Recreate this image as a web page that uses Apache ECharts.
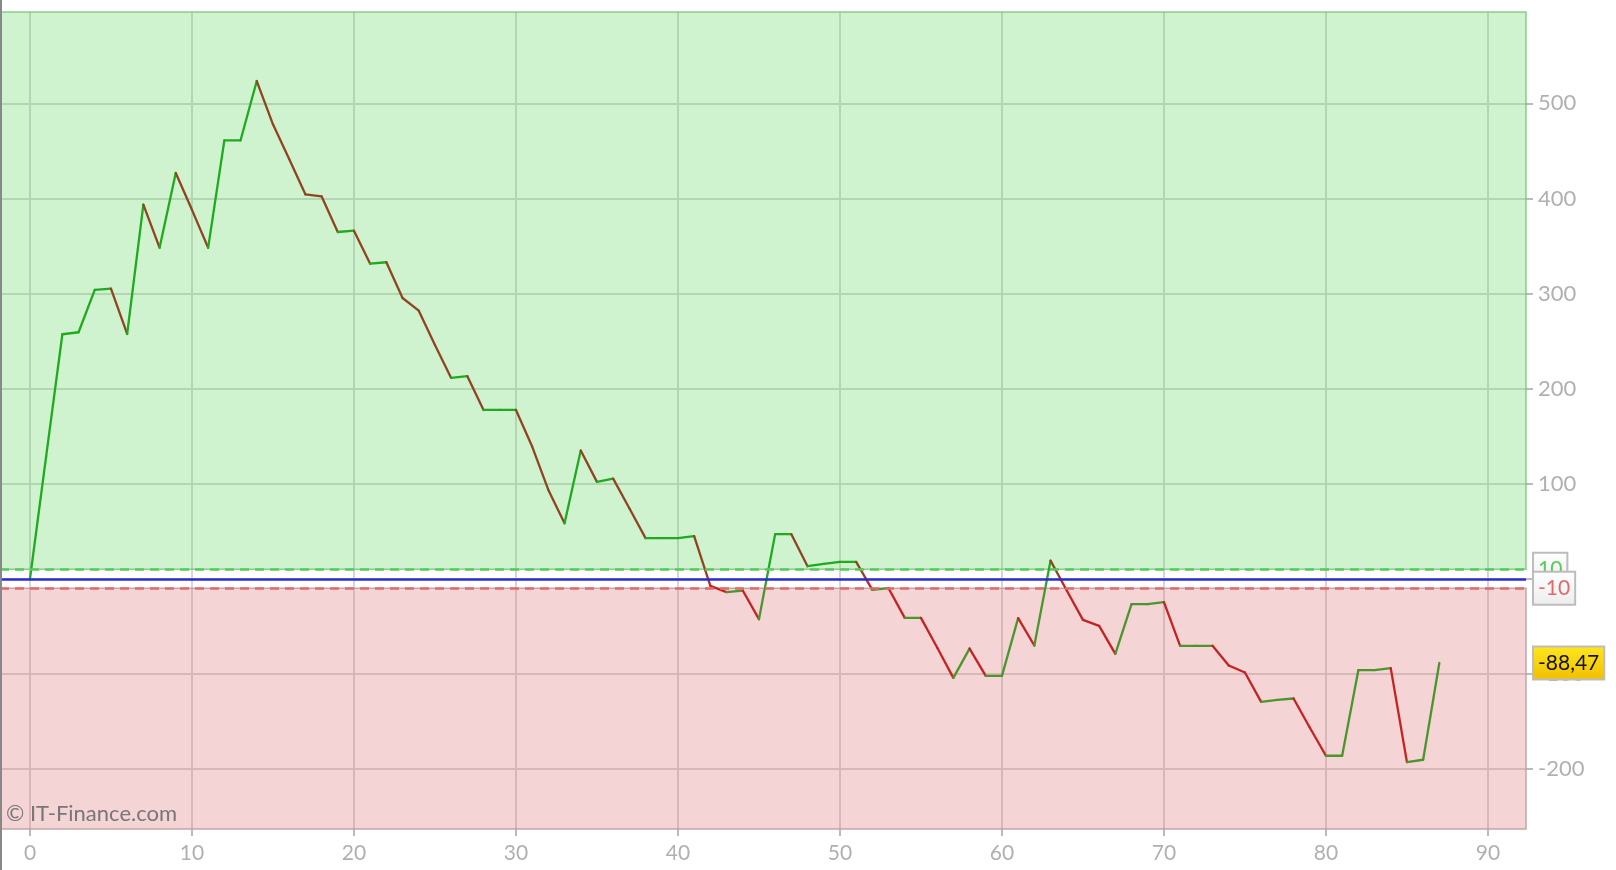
<!DOCTYPE html>
<html>
<head>
<meta charset="utf-8">
<script src="https://cdn.jsdelivr.net/npm/echarts@6/dist/echarts.min.js"></script>
<style>
html,body{margin:0;padding:0;background:#fff;}
#chart{width:1616px;height:870px;}
</style>
</head>
<body>
<div id="chart"></div>
<script>
// ---- data ----
const xValues = [];
const seriesValues = [
  0, 129, 257.2, 259.3, 303.8, 305.1, 257.5, 393.4, 348.2, 426.7,
  388, 348.2, 461.1, 461.1, 523.4, 477.9, 441.5, 404.3, 402.2, 364.7,
  366.1, 331.4, 332.9, 295.3, 282.0, 246, 211.3, 213.1, 177.6, 177.6,
  177.6, 139.1, 93.5, 58.5, 134.9, 102, 105.4, 74.3, 42.8, 42.8,
  42.8, 44.9, -7.4, -14, -12.3, -42.4, 47, 47, 13.3, 15.8,
  17.9, 17.9, -11.6, -9.8, -41, -41, -72.2, -104.1, -73.3, -102,
  -102, -41.3, -70.1, 19.2, -12.3, -43.1, -49.4, -78.8, -26.6, -26.6,
  -24.5, -70.4, -70.4, -70.4, -91.1, -98.5, -129.3, -127.2, -125.8, -156.3,
  -186, -186, -96, -96, -93.9, -192.7, -190.2, -88.47
];
for (let i = 0; i < seriesValues.length; i++) xValues.push(i);
const xTicks = [0, 10, 20, 30, 40, 50, 60, 70, 80, 90];
const yTicks = [-200, -100, 0, 100, 200, 300, 400, 500];
const upperBand = 10;
const lowerBand = -10;
const lastValue = -88.47;
const xRange = [-1.85, 92.35];
const yRange = [-263, 596];

// ---- chart ----
const segData = [];
for (let i = 0; i < seriesValues.length - 1; i++) {
  segData.push([xValues[i], seriesValues[i], xValues[i + 1], seriesValues[i + 1]]);
}
const COL = {
  upPos: '#1faa1f', upNeg: '#4a952c',
  downPos: '#8e4520', downNeg: '#c62222'
};
function colorAt(v, up) {
  if (up) return v >= 0 ? COL.upPos : COL.upNeg;
  return v >= 0 ? COL.downPos : COL.downNeg;
}
const chart = echarts.init(document.getElementById('chart'), null, {renderer: 'canvas'});
const font = 'Lato, "Open Sans", sans-serif';
const boxLabel = {
  position: 'end', distance: 8, fontFamily: font, fontSize: 21, lineHeight: 22,
  borderColor: '#bdbdbd', borderWidth: 2, padding: [5, 4, 4, 4]
};
chart.setOption({
  animation: false,
  backgroundColor: '#fff',
  grid: {left: 0, right: 90, top: 12, bottom: 41},
  xAxis: {
    type: 'value', min: xRange[0], max: xRange[1], splitNumber: 9,
    axisLine: {show: false, onZero: false},
    axisTick: {show: true, length: 7, lineStyle: {color: '#bbb', width: 2}, customValues: xTicks},
    axisLabel: {customValues: xTicks, color: '#b0b0b0', fontSize: 21, fontFamily: font, margin: 14},
    splitLine: {show: true, lineStyle: {color: '#d6d6d6', width: 2}}
  },
  yAxis: {
    type: 'value', position: 'right', min: yRange[0], max: yRange[1], splitNumber: 8,
    axisLine: {show: false, onZero: false},
    axisTick: {show: true, length: 7, lineStyle: {color: '#bbb', width: 2}, customValues: yTicks},
    axisLabel: {customValues: yTicks, color: '#b0b0b0', fontSize: 22, fontFamily: font, margin: 12},
    splitLine: {show: true, lineStyle: {color: '#d6d6d6', width: 2}}
  },
  graphic: [
    {type: 'rect', left: 0, top: 0, shape: {width: 2, height: 870}, style: {fill: '#888'}, z: 100},
    {type: 'text', left: 6, top: 803, z: 100,
     style: {text: '\u00A9 IT-Finance.com', fill: '#777', font: '22px Lato, "Open Sans", sans-serif'}}
  ],
  series: [
    {
      type: 'line', data: [], z: 1, silent: true,
      markArea: {
        silent: true,
        data: [
          [{yAxis: upperBand, itemStyle: {color: 'rgba(95,211,95,0.3)', borderColor: 'rgba(120,190,120,0.8)', borderWidth: 1.5}}, {yAxis: yRange[1]}],
          [{yAxis: yRange[0], itemStyle: {color: 'rgba(218,112,112,0.3)', borderColor: 'rgba(190,160,160,0.9)', borderWidth: 1.5}}, {yAxis: lowerBand}]
        ]
      }
    },
    {
      type: 'line', data: [], z: 2, silent: true,
      markLine: {
        silent: true, symbol: ['none', 'none'],
        label: boxLabel,
        data: [
          {yAxis: 0, lineStyle: {color: '#2b2bd6', width: 2.5, type: 'solid'}, label: {show: false}},
          {yAxis: upperBand, lineStyle: {color: '#55cc55', width: 2.5, type: [9, 6]},
           label: Object.assign({}, boxLabel, {formatter: String(upperBand), color: '#55cc55',
             backgroundColor: new echarts.graphic.LinearGradient(0, 0, 0, 1, [{offset: 0, color: '#ffffff'}, {offset: 1, color: '#ececec'}])})},
          {yAxis: lowerBand, lineStyle: {color: '#e06a6a', width: 2.5, type: [9, 6]},
           label: Object.assign({}, boxLabel, {formatter: String(lowerBand), color: '#e06a6a',
             backgroundColor: new echarts.graphic.LinearGradient(0, 0, 0, 1, [{offset: 0, color: '#ffffff'}, {offset: 1, color: '#ececec'}])})},
          {yAxis: lastValue, lineStyle: {color: 'rgba(0,0,0,0)', width: 0},
           label: Object.assign({}, boxLabel, {formatter: String(lastValue).replace('.', ','), color: '#111',
             backgroundColor: new echarts.graphic.LinearGradient(0, 0, 0, 1, [{offset: 0, color: '#ffe61e'}, {offset: 1, color: '#f0bf00'}])})}
        ]
      }
    },
    {
      type: 'custom', z: 3, silent: true,
      data: segData,
      encode: {x: [0, 2], y: [1, 3]},
      renderItem: function (params, api) {
        const v0 = api.value(1), v1 = api.value(3);
        const p0 = api.coord([api.value(0), v0]);
        const p1 = api.coord([api.value(2), v1]);
        const up = v1 >= v0;
        let stops;
        if ((v0 >= 0) !== (v1 >= 0)) {
          const t = v0 / (v0 - v1);
          stops = [
            {offset: 0, color: colorAt(v0, up)},
            {offset: Math.max(0, t - 0.12), color: colorAt(v0, up)},
            {offset: Math.min(1, t + 0.12), color: colorAt(v1, up)},
            {offset: 1, color: colorAt(v1, up)}
          ];
        } else {
          stops = [{offset: 0, color: colorAt(v0, up)}, {offset: 1, color: colorAt(v1, up)}];
        }
        const dy = p1[1] - p0[1];
        const grad = (Math.abs(dy) < 0.5)
          ? colorAt(v0, up)
          : new echarts.graphic.LinearGradient(p0[0], p0[1], p1[0], p1[1], stops, true);
        return {
          type: 'line',
          shape: {x1: p0[0], y1: p0[1], x2: p1[0], y2: p1[1]},
          style: {stroke: grad, lineWidth: 2.3, lineCap: 'round'}
        };
      }
    }
  ]
});
</script>
</body>
</html>
